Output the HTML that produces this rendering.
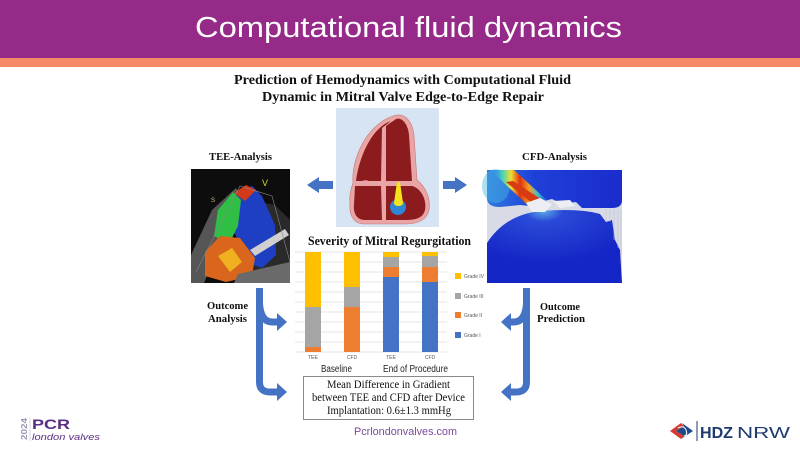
<!DOCTYPE html>
<html><head><meta charset="utf-8"><style>
html,body{margin:0;padding:0;background:#fff;}
body{width:800px;height:450px;overflow:hidden;}
svg{display:block;}
</style></head><body>
<svg width="800" height="450" viewBox="0 0 800 450" xmlns="http://www.w3.org/2000/svg">
<defs>
<linearGradient id="jet" x1="0" y1="0" x2="1" y2="0">
<stop offset="0" stop-color="#3a7af0" stop-opacity="0"/>
<stop offset="0.2" stop-color="#40d0c0"/>
<stop offset="0.35" stop-color="#f0e030"/>
<stop offset="0.5" stop-color="#e03010"/>
<stop offset="0.65" stop-color="#f0a020"/>
<stop offset="0.8" stop-color="#40c0d0"/>
<stop offset="1" stop-color="#3a7af0" stop-opacity="0"/>
</linearGradient>
<linearGradient id="upblue" x1="0" y1="0" x2="1" y2="0">
<stop offset="0" stop-color="#2f7ae0"/>
<stop offset="0.35" stop-color="#1e40d8"/>
<stop offset="1" stop-color="#1a2ccc"/>
</linearGradient>
<radialGradient id="lowblue" cx="0.42" cy="0.02" r="0.7">
<stop offset="0" stop-color="#5aa8e8"/>
<stop offset="0.2" stop-color="#2a4ad8"/>
<stop offset="1" stop-color="#1526c6"/>
</radialGradient>
</defs>

<!-- header -->
<rect x="0" y="0" width="800" height="58" fill="#952a88"/>
<rect x="0" y="58" width="800" height="9" fill="#f68a68"/>
<text x="195" y="37" textLength="427" lengthAdjust="spacingAndGlyphs" font-family="Liberation Sans, sans-serif" font-size="29" fill="#fff">Computational fluid dynamics</text>

<!-- subtitle -->
<g font-family="Liberation Serif, serif" font-weight="bold" fill="#111">
<text x="234" y="84" textLength="337" lengthAdjust="spacingAndGlyphs" font-size="14">Prediction of Hemodynamics with Computational Fluid</text>
<text x="262" y="101" textLength="282" lengthAdjust="spacingAndGlyphs" font-size="14">Dynamic in Mitral Valve Edge-to-Edge Repair</text>
<text x="209" y="160" textLength="63" lengthAdjust="spacingAndGlyphs" font-size="11">TEE-Analysis</text>
<text x="522" y="160" textLength="65" lengthAdjust="spacingAndGlyphs" font-size="11">CFD-Analysis</text>
<text x="308" y="245" textLength="163" lengthAdjust="spacingAndGlyphs" font-size="13">Severity of Mitral Regurgitation</text>
<text x="207" y="309" textLength="41" lengthAdjust="spacingAndGlyphs" font-size="11">Outcome</text>
<text x="208" y="322" textLength="39" lengthAdjust="spacingAndGlyphs" font-size="11">Analysis</text>
<text x="540" y="310" textLength="40" lengthAdjust="spacingAndGlyphs" font-size="11">Outcome</text>
<text x="537" y="322" textLength="48" lengthAdjust="spacingAndGlyphs" font-size="11">Prediction</text>
</g>

<!-- heart image -->
<rect x="336" y="108" width="103" height="119" fill="#d7e4f3"/>
<path d="M393,116 C404,112 412,120 414,135 L417,180 C425,186 431,198 429,210 C427,220 418,224 405,224 L364,224 C354,224 349,215 350,205 C349,195 351,188 353,183 C351,160 366,125 393,116 Z" fill="#e9a5a5" stroke="#c87777" stroke-width="0.6"/>
<path d="M391,121 C371,128 359,158 356,181 L381,181 L382,128 Z" fill="#8c1b1e"/>
<path d="M396,119 C402,117 408,124 409,135 L412,181 L386,181 L386,126 Z" fill="#8c1b1e"/>
<path d="M355,186 L381,186 L382,220 L365,220 C356,220 353,212 354,204 Z" fill="#8c1b1e"/>
<path d="M386,186 L412,186 C421,188 427,200 425,210 C423,218 416,220 405,220 L386,220 Z" fill="#8c1b1e"/>
<path d="M357,184 Q368,178 370,184 Q375,186 383,184" stroke="#e9a5a5" stroke-width="1.5" fill="none"/>
<ellipse cx="398" cy="207" rx="8" ry="8" fill="#2f86d6"/>
<path d="M397,182 L400,182 L403,203 C403,207 394,207 394,203 Z" fill="#f4e21a"/>

<!-- side arrows -->
<polygon points="307,185 319,177 319,181 333,181 333,189 319,189 319,193" fill="#4472c4"/>
<polygon points="467,185 455,177 455,181 443,181 443,189 455,189 455,193" fill="#4472c4"/>

<!-- TEE image -->
<rect x="191" y="169" width="99" height="114" fill="#0d0d0d"/>
<polygon points="191,283 191,255 212,210 236,188 242,198 218,250 204,283" fill="#555"/>
<polygon points="250,200 275,205 290,220 290,283 240,283 260,240" fill="#2a2a2a"/>
<polygon points="234,194 252,186 262,196 275,225 276,255 262,268 245,262 238,240 228,220" fill="#1f3fc2"/>
<polygon points="218,210 233,192 241,200 238,226 229,244 214,236" fill="#2fbf45"/>
<polygon points="234,193 246,185 256,190 245,201" fill="#d43a18"/>
<polygon points="205,252 220,236 240,238 255,258 252,276 226,282 205,276" fill="#d9661c"/>
<polygon points="218,256 232,248 242,262 230,272" fill="#f0b020"/>
<polygon points="250,250 285,229 289,235 255,256" fill="#cfcfcf"/>
<polygon points="238,274 290,262 290,283 234,283" fill="#6a6a6a"/>
<polyline points="196,272 240,186 272,196 290,262" fill="none" stroke="#888" stroke-width="0.6"/>
<text x="262" y="186" font-family="Liberation Sans, sans-serif" font-size="9" fill="#d8d830">V</text>
<text x="211" y="202" font-family="Liberation Sans, sans-serif" font-size="6" fill="#c8c880">S</text>

<!-- CFD image -->
<rect x="487" y="170" width="135" height="113" fill="#d8dbe6"/>
<path d="M487,170 L622,170 L622,200 Q622,208 612,208 L582,208 L576,202 L562,204 L552,199 L540,202 L530,206 L520,205 L500,207 Q487,207 487,198 Z" fill="url(#upblue)"/>
<ellipse cx="496" cy="186" rx="14" ry="17" fill="#48b8e0" opacity="0.45"/>
<path d="M487,283 L487,243 Q505,215 540,211 Q580,208 600,214 L606,222 L612,220 L615,240 L620,250 L622,283 Z" fill="url(#lowblue)"/>
<g stroke="#b8bccc" stroke-width="0.5">
<line x1="606" y1="209" x2="606" y2="222"/><line x1="610" y1="209" x2="610" y2="222"/><line x1="614" y1="209" x2="614" y2="240"/><line x1="618" y1="209" x2="618" y2="248"/><line x1="621" y1="209" x2="621" y2="255"/>
</g>
<polygon points="490,170 514,170 550,203 534,211" fill="url(#jet)"/>
<polygon points="506,182 513,181 547,203 538,208" fill="#d83a12"/>
<path d="M526,203 L540,198 L552,204 L545,212 L532,212 Z" fill="#eceef4"/>
<path d="M553,201 L570,200 L575,206 L560,208 Z" fill="#eceef4"/>

<!-- chart -->
<g stroke="#dcdcdc" stroke-width="0.7">
<line x1="295" y1="252" x2="447" y2="252"/><line x1="295" y1="262" x2="447" y2="262"/><line x1="295" y1="272" x2="447" y2="272"/><line x1="295" y1="282" x2="447" y2="282"/><line x1="295" y1="292" x2="447" y2="292"/><line x1="295" y1="302" x2="447" y2="302"/><line x1="295" y1="312" x2="447" y2="312"/><line x1="295" y1="322" x2="447" y2="322"/><line x1="295" y1="332" x2="447" y2="332"/><line x1="295" y1="342" x2="447" y2="342"/><line x1="295" y1="352" x2="447" y2="352"/>
</g>
<rect x="305" y="252" width="16" height="55" fill="#ffc000"/>
<rect x="305" y="307" width="16" height="40" fill="#a5a5a5"/>
<rect x="305" y="347" width="16" height="5" fill="#ed7d31"/>
<rect x="344" y="252" width="16" height="35" fill="#ffc000"/>
<rect x="344" y="287" width="16" height="20" fill="#a5a5a5"/>
<rect x="344" y="307" width="16" height="45" fill="#ed7d31"/>
<rect x="383" y="252" width="16" height="5" fill="#ffc000"/>
<rect x="383" y="257" width="16" height="10" fill="#a5a5a5"/>
<rect x="383" y="267" width="16" height="10" fill="#ed7d31"/>
<rect x="383" y="277" width="16" height="75" fill="#4472c4"/>
<rect x="422" y="252" width="16" height="4" fill="#ffc000"/>
<rect x="422" y="256" width="16" height="11" fill="#a5a5a5"/>
<rect x="422" y="267" width="16" height="15" fill="#ed7d31"/>
<rect x="422" y="282" width="16" height="70" fill="#4472c4"/>
<g font-family="Liberation Sans, sans-serif" font-size="5" fill="#555">
<text x="313" y="359" text-anchor="middle">TEE</text>
<text x="352" y="359" text-anchor="middle">CFD</text>
<text x="391" y="359" text-anchor="middle">TEE</text>
<text x="430" y="359" text-anchor="middle">CFD</text>
<rect x="455" y="273" width="6" height="6" fill="#ffc000"/>
<rect x="455" y="293" width="6" height="6" fill="#a5a5a5"/>
<rect x="455" y="312" width="6" height="6" fill="#ed7d31"/>
<rect x="455" y="332" width="6" height="6" fill="#4472c4"/>
<text x="464" y="278">Grade IV</text>
<text x="464" y="298">Grade III</text>
<text x="464" y="317">Grade II</text>
<text x="464" y="337">Grade I</text>
</g>
<g font-family="Liberation Sans, sans-serif" font-size="10" fill="#222">
<text x="321" y="372" textLength="31" lengthAdjust="spacingAndGlyphs">Baseline</text>
<text x="383" y="372" textLength="65" lengthAdjust="spacingAndGlyphs">End of Procedure</text>
</g>

<!-- brackets -->
<g stroke="#4472c4" stroke-width="7" fill="none">
<path d="M259.5,288 L259.5,382 Q259.5,392 270,392 L279,392"/>
<path d="M259.5,304 Q261,322 272,322 L279,322"/>
<path d="M526.5,288 L526.5,382 Q526.5,392 516,392 L509,392"/>
<path d="M526.5,304 Q525,322 514,322 L509,322"/>
</g>
<g fill="#4472c4">
<polygon points="277,383 287,392 277,401"/>
<polygon points="277,313 287,322 277,331"/>
<polygon points="511,383 501,392 511,401"/>
<polygon points="511,313 501,322 511,331"/>
</g>

<!-- text box -->
<rect x="303.5" y="376.5" width="170" height="43" fill="#fff" stroke="#8a8a8a" stroke-width="1"/>
<g font-family="Liberation Serif, serif" font-size="12" fill="#111">
<text x="327" y="388" textLength="123" lengthAdjust="spacingAndGlyphs">Mean Difference in Gradient</text>
<text x="312" y="401" textLength="153" lengthAdjust="spacingAndGlyphs">between TEE and CFD after Device</text>
<text x="327" y="414" textLength="124" lengthAdjust="spacingAndGlyphs">Implantation: 0.6±1.3 mmHg</text>
</g>

<text x="354" y="435" textLength="103" lengthAdjust="spacingAndGlyphs" font-family="Liberation Sans, sans-serif" font-size="11" fill="#7a4a9c">Pcrlondonvalves.com</text>

<!-- PCR logo -->
<text transform="translate(27,440) rotate(-90)" font-family="Liberation Sans, sans-serif" font-weight="bold" font-size="8" fill="#a095b5" textLength="22" lengthAdjust="spacingAndGlyphs">2024</text>
<line x1="30" y1="418" x2="30" y2="441" stroke="#c0b8d0" stroke-width="0.6"/>
<text x="32" y="429" textLength="38" lengthAdjust="spacingAndGlyphs" font-family="Liberation Sans, sans-serif" font-weight="bold" font-size="14" fill="#5a2d84">PCR</text>
<text x="32" y="440" textLength="68" lengthAdjust="spacingAndGlyphs" font-family="Liberation Sans, sans-serif" font-style="italic" font-size="9" fill="#5a2d84">london valves</text>

<!-- HDZ logo -->
<polygon points="681,423 670,431 681,439 684,436 676,431 684,426" fill="#d93a2e"/>
<polygon points="684,426 676,431 684,436 681,439 693,431 682,423" fill="#1f4a8a"/>
<path d="M678,428 Q684,425 686,430 Q688,435 684,436" fill="none" stroke="#fff" stroke-width="1"/>
<line x1="697" y1="421" x2="697" y2="441" stroke="#1f3a6e" stroke-width="1"/>
<text x="700" y="438" textLength="33" lengthAdjust="spacingAndGlyphs" font-family="Liberation Sans, sans-serif" font-weight="bold" font-size="16" fill="#1f3a6e">HDZ</text>
<text x="737" y="438" textLength="53" lengthAdjust="spacingAndGlyphs" font-family="Liberation Sans, sans-serif" font-size="16" fill="#1f3a6e">NRW</text>
</svg>
</body></html>
